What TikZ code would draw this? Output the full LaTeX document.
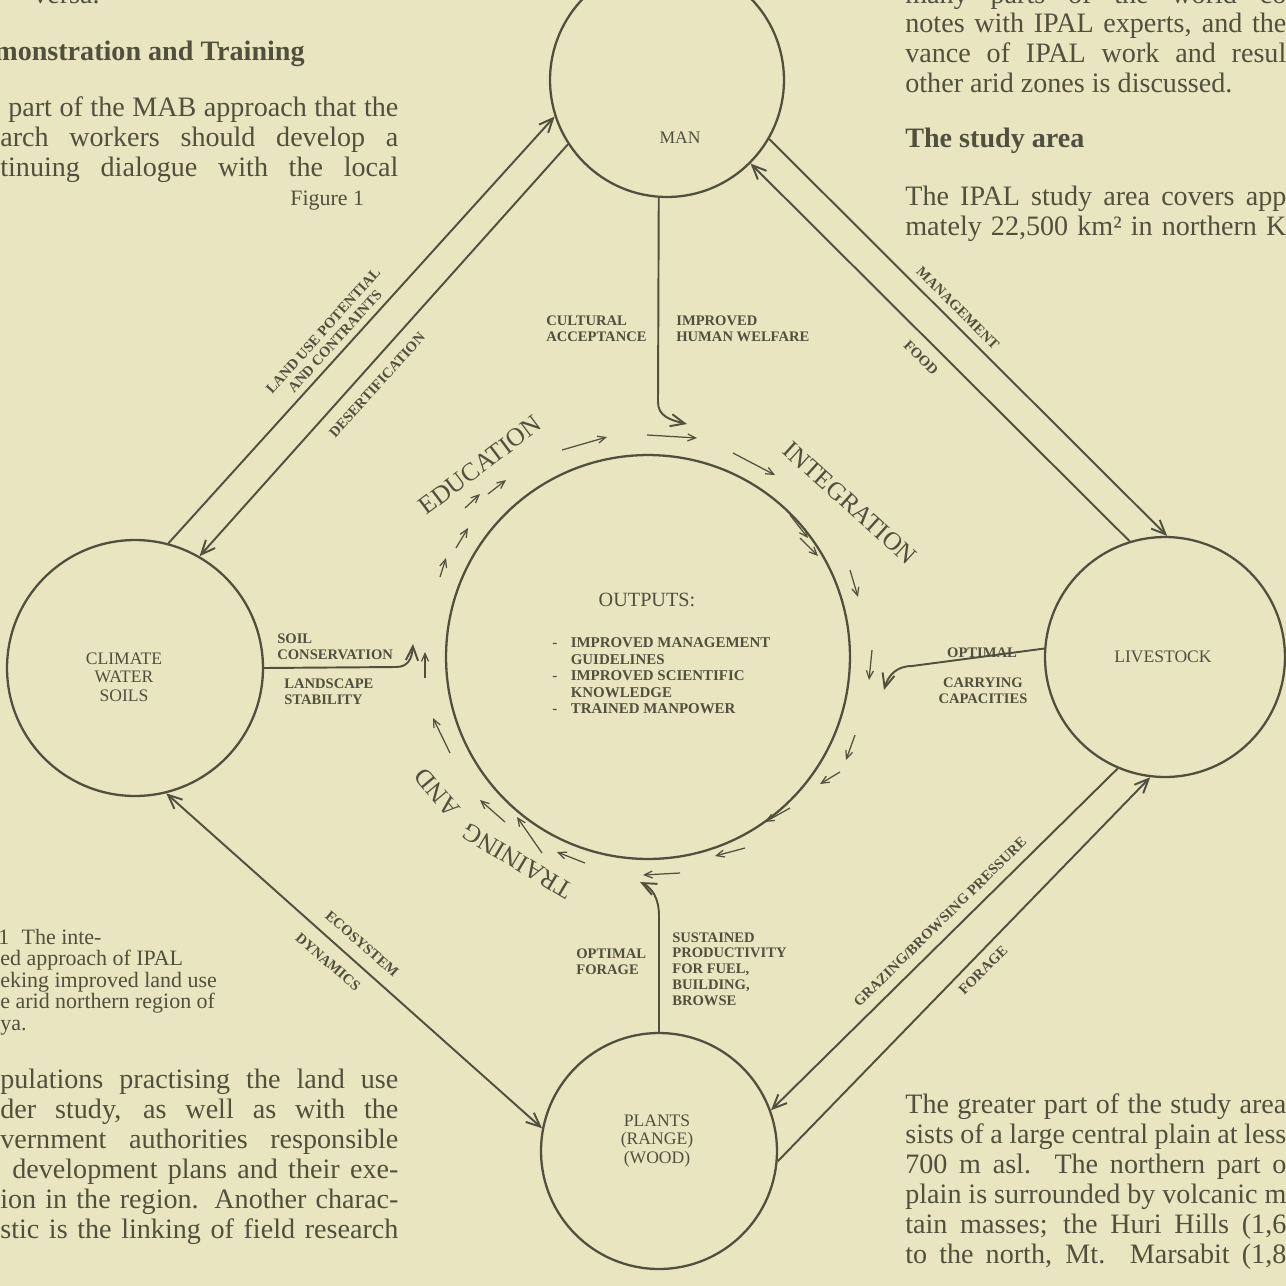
\documentclass[tikz,border=0pt]{standalone}
\usepackage{fontspec}
\setmainfont{Liberation Serif}
\usetikzlibrary{arrows.meta}
\definecolor{paper}{RGB}{232,229,192}
\definecolor{ink}{RGB}{80,80,60}
\newlength\pxl
\setlength\pxl{0.02cm}
\newcommand\jline[2]{\makebox[#1\pxl][s]{#2}}
\newcommand\dashit{\makebox[10.5pt][l]{-}}
\newcommand\noit{\hspace*{10.5pt}}
\tikzset{
  blob/.style={circle,draw=ink,line width=1.3pt,inner sep=0pt},
  lnk/.style={draw=ink,line width=1.1pt},
  big/.style={lnk,-{Straight Barb[length=8pt,width=7pt]}},
  small/.style={draw=ink,line width=0.7pt,-{Straight Barb[length=4.5pt,width=4pt]}},
  circlab/.style={font=\fontsize{10}{10.6}\selectfont,text=ink,align=center,inner sep=0pt},
  tag/.style={font=\fontsize{8.3}{9}\selectfont\bfseries,text=ink,inner sep=0pt},
  flow/.style={font=\fontsize{14.5}{16}\selectfont,text=ink,inner sep=0pt},
  body/.style={font=\fontsize{16}{17}\selectfont,text=ink,inner sep=0pt,anchor=base west},
  capt/.style={font=\fontsize{12.5}{13}\selectfont,text=ink,inner sep=0pt,anchor=base west}
}
\begin{document}
\begin{tikzpicture}[x=0.02cm,y=-0.02cm]
\fill[paper] (0,0) rectangle (1286,1286);
\useasboundingbox (0,0) rectangle (1286,1286);
\clip (0,0) rectangle (1286,1286);

\node[body] (p1) at (33,3) {versa.};
\node[body,font=\fontsize{16}{17}\selectfont\bfseries] (p2) at (-6,60) {monstration and Training};
\node[body] (p3) at (8,116) {\jline{390}{part of the MAB approach that the}};
\node[body] (p4) at (0,146) {\jline{398}{arch workers should develop a}};
\node[body] (p5) at (0,176) {\jline{398}{tinuing dialogue with the local}};
\node[capt] (fig) at (290,205) {Figure 1};

\node[body] (q1) at (905,3) {\jline{381}{many parts of the world co}};
\node[body] (q2) at (905,32) {\jline{381}{notes with IPAL experts, and the}};
\node[body] (q3) at (905,62) {\jline{381}{vance of IPAL work and resul}};
\node[body] (q4) at (905,92) {other arid zones is discussed.};
\node[body,font=\fontsize{16}{17}\selectfont\bfseries] (q5) at (905,147) {The study area};
\node[body] (q6) at (905,205) {\jline{381}{The IPAL study area covers app}};
\node[body] (q7) at (905,235) {\jline{381}{mately 22,500 km² in northern K}};

\node[capt] (c1) at (-2,944) {1\hspace{7pt}The inte-};
\node[capt] (c2) at (0,965) {ed approach of IPAL};
\node[capt] (c3) at (0,987) {eking improved land use};
\node[capt] (c4) at (0,1008) {e arid northern region of};
\node[capt] (c5) at (0,1030) {ya.};

\node[body] (b1) at (0,1088) {\jline{398}{pulations practising the land use}};
\node[body] (b2) at (0,1118) {\jline{398}{der study, as well as with the}};
\node[body] (b3) at (0,1148) {\jline{398}{vernment authorities responsible}};
\node[body] (b4) at (12,1178) {\jline{386}{development plans and their exe-}};
\node[body] (b5) at (0,1208) {\jline{398}{ion in the region. Another charac-}};
\node[body] (b6) at (0,1238) {\jline{398}{stic is the linking of field research}};

\node[body] (r1) at (905,1113) {\jline{381}{The greater part of the study area}};
\node[body] (r2) at (905,1143) {\jline{381}{sists of a large central plain at less}};
\node[body] (r3) at (905,1173) {\jline{381}{700 m asl. The northern part o}};
\node[body] (r4) at (905,1203) {\jline{381}{plain is surrounded by volcanic m}};
\node[body] (r5) at (905,1233) {\jline{381}{tain masses; the Huri Hills (1,6}};
\node[body] (r6) at (905,1263) {\jline{381}{to the north, Mt. Marsabit (1,8}};

\node[blob,minimum size=4.68cm] (man) at (667,80) {};
\node[blob,minimum size=5.12cm] (climate) at (135,668) {};
\node[blob,minimum size=4.8cm] (stock) at (1165,657) {};
\node[blob,minimum size=4.72cm] (plants) at (659,1151) {};
\node[blob,minimum size=8.08cm] (out) at (648,657) {};

\node[circlab] (manlab) at (680,138) {MAN};
\node[circlab] (climlab) at (124,677) {CLIMATE\\WATER\\SOILS};
\node[circlab] (stocklab) at (1163,657) {LIVESTOCK};
\node[circlab] (plantlab) at (657,1141) {PLANTS\\(RANGE)\\(WOOD)};
\node[font=\fontsize{11.5}{13}\selectfont,text=ink,inner sep=0pt] (outhead) at (647,600) {OUTPUTS:};
\node[tag,font=\fontsize{8.5}{9.4}\selectfont\bfseries,anchor=west,align=left] (outlist) at (552,676) {\dashit IMPROVED MANAGEMENT\\\noit GUIDELINES\\\dashit IMPROVED SCIENTIFIC\\\noit KNOWLEDGE\\\dashit TRAINED MANPOWER};

\draw[big] (climate.75) -- (man.198);
\draw[big] (man.213) -- (climate.60);
\draw[big] (man.330) -- (stock.89);
\draw[big] (stock.107) -- (man.315);
\draw[big] (stock.247) -- (plants.20);
\draw[big] (plants.355) -- (stock.263);
\draw[lnk,{Straight Barb[length=8pt,width=7pt]}-{Straight Barb[length=8pt,width=7pt]}] (climate.284) -- (plants.169);

\draw[big] (man.266) -- (658,402) .. controls (658,416) and (670,420) .. (687,424);
\draw[big] (climate.0) -- (396,667) .. controls (407,667) and (412,660) .. (413,644);
\draw[big] (stock.176) -- (912,666) .. controls (896,666) and (888,676) .. (884,690);
\draw[big] (plants.90) -- (659,916) .. controls (659,898) and (652,888) .. (640,882);

\node[tag,rotate=48,align=center] (landuse) at (329,336) {LAND USE POTENTIAL\\AND CONTRAINTS};
\node[tag,rotate=48] (desert) at (377,385) {DESERTIFICATION};
\node[tag,rotate=-45] (mgmt) at (958,308) {MANAGEMENT};
\node[tag,rotate=-45] (food) at (921,358) {FOOD};
\node[tag,rotate=44.5] (graze) at (940,922) {GRAZING/BROWSING PRESSURE};
\node[tag,rotate=45] (forage) at (983,970) {FORAGE};
\node[tag,rotate=-41] (eco) at (362,944) {ECOSYSTEM};
\node[tag,rotate=-41] (dyn) at (328,962) {DYNAMICS};

\node[tag,anchor=west,align=left] (cult) at (546,329) {CULTURAL\\ACCEPTANCE};
\node[tag,anchor=west,align=left] (welfare) at (676,329) {IMPROVED\\HUMAN WELFARE};
\node[tag,anchor=west,align=left] (soil) at (277,647) {SOIL\\CONSERVATION};
\node[tag,anchor=west,align=left] (landsc) at (284,692) {LANDSCAPE\\STABILITY};
\node[tag] (optl) at (982,653) {OPTIMAL};
\node[tag,align=center] (carry) at (983,691) {CARRYING\\CAPACITIES};
\node[tag,anchor=west,align=left] (optf) at (576,962) {OPTIMAL\\FORAGE};
\node[tag,anchor=west,align=left] (sust) at (672,969) {SUSTAINED\\PRODUCTIVITY\\FOR FUEL,\\BUILDING,\\BROWSE};

\node[flow,rotate=37] (edu) at (480,465) {EDUCATION};
\node[flow,rotate=-42] (integ) at (850,503) {INTEGRATION};
\node[flow,rotate=149] (train) at (517,861) {TRAINING};
\node[flow,rotate=130] (andlab) at (437,793) {AND};

\draw[small] (450,753) -- (433,718);
\draw[small] (425,678) -- (425,652);
\draw[small] (440,577) -- (446,558);
\draw[small] (456,548) -- (468,528);
\draw[small] (465,508) -- (480,494);
\draw[small] (488,494) -- (506,480);
\draw[small] (562,450) -- (607,437);
\draw[small] (647,435) -- (697,438);
\draw[small] (733,453) -- (775,475);
\draw[small] (790,515) -- (808,538);
\draw[small] (800,538) -- (818,556);
\draw[small] (850,570) -- (858,597);
\draw[small] (872,650) -- (869,680);
\draw[small] (855,735) -- (846,760);
\draw[small] (840,772) -- (820,784);
\draw[small] (790,808) -- (765,822);
\draw[small] (745,848) -- (715,856);
\draw[small] (680,873) -- (643,875);
\draw[small] (585,863) -- (557,852);
\draw[small] (542,853) -- (517,817);
\draw[small] (505,822) -- (480,800);
\end{tikzpicture}
\end{document}
